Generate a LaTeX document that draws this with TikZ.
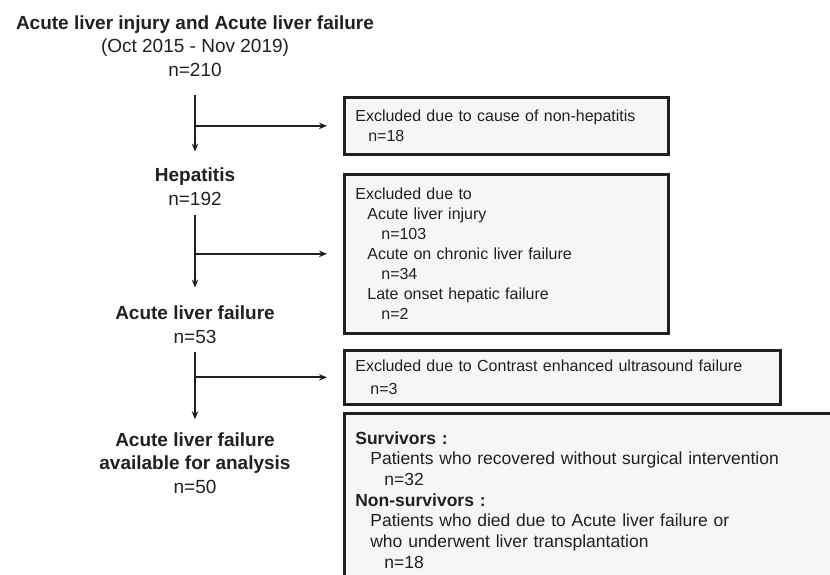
\documentclass[tikz,border=0pt]{standalone}
\usepackage{fontspec}
\setmainfont{Liberation Sans}
\usetikzlibrary{arrows.meta, positioning}
\definecolor{ink}{HTML}{231F20}
\definecolor{boxfill}{HTML}{F6F6F6}

\begin{document}
\begin{tikzpicture}[x=1pt, y=-1pt,
	stage/.style={align=center, text=ink, inner sep=0pt, font=\fontsize{19}{23.5}\selectfont},
	exclbox/.style={draw=ink, line width=2.7pt, fill=boxfill, anchor=north west, align=left, text=ink,
		inner xsep=11pt, inner ysep=0pt, text width=302pt, font=\fontsize{16}{20}\selectfont},
	flow/.style={draw=ink, line width=2pt, -{Stealth[length=8pt, width=6.5pt]}}]
		\clip (0,0) rectangle (830,575);
		\useasboundingbox (0,0) rectangle (830,575);

		%stages of the selection
		\node[stage] (total) at (195,46) {\textbf{Acute liver injury and Acute liver failure}\\(Oct 2015 - Nov 2019)\\n=210};
		\node[stage] (hep) at (195,186.5) {\textbf{Hepatitis}\\n=192};
		\node[stage] (alf) at (195,324.5) {\textbf{Acute liver failure}\\n=53};
		\node[stage] (final) at (195,463) {\textbf{Acute liver failure}\\\textbf{available for analysis}\\n=50};

		%excluded patients
		\node[exclbox, minimum height=57pt] (excl1) at (343,96) {Excluded due to cause of non-hepatitis\\\hspace*{13pt}n=18};
		\node[exclbox, minimum height=159pt] (excl2) at (343,173) {Excluded due to\\\hspace*{12pt}Acute liver injury\\\hspace*{26pt}n=103\\\hspace*{12pt}Acute on chronic liver failure\\\hspace*{26pt}n=34\\\hspace*{12pt}Late onset hepatic failure\\\hspace*{26pt}n=2};
		\node[exclbox, minimum height=54pt, text width=414pt] (excl3) at (343,349) {Excluded due to Contrast enhanced ultrasound failure\\[3pt]\hspace*{15pt}n=3};

		%outcome
		\node[exclbox, text width=520pt, inner ysep=18pt, font=\fontsize{17.5}{20.7}\selectfont] (outcome) at (343,412)
			{\textbf{Survivors :}\\\hspace*{15pt}Patients who recovered without surgical intervention\\\hspace*{29pt}n=32\\\textbf{Non-survivors :}\\\hspace*{15pt}Patients who died due to Acute liver failure or\\\hspace*{15pt}who underwent liver transplantation\\\hspace*{29pt}n=18};

		%arrows
		\draw[flow] ([yshift=-18pt]total.south) -- ([yshift=16pt]hep.north);
		\draw[flow] (hep.north |- excl1.west) -- ([xshift=-16pt]excl1.west);
		\draw[flow] ([yshift=-10pt]hep.south) -- ([yshift=18pt]alf.north);
		\draw[flow] (alf.north |- excl2.west) -- ([xshift=-16pt]excl2.west);
		\draw[flow] ([yshift=-9pt]alf.south) -- ([yshift=13pt]final.north);
		\draw[flow] (alf.north |- excl3.west) -- ([xshift=-16pt]excl3.west);
\end{tikzpicture}
\end{document}
